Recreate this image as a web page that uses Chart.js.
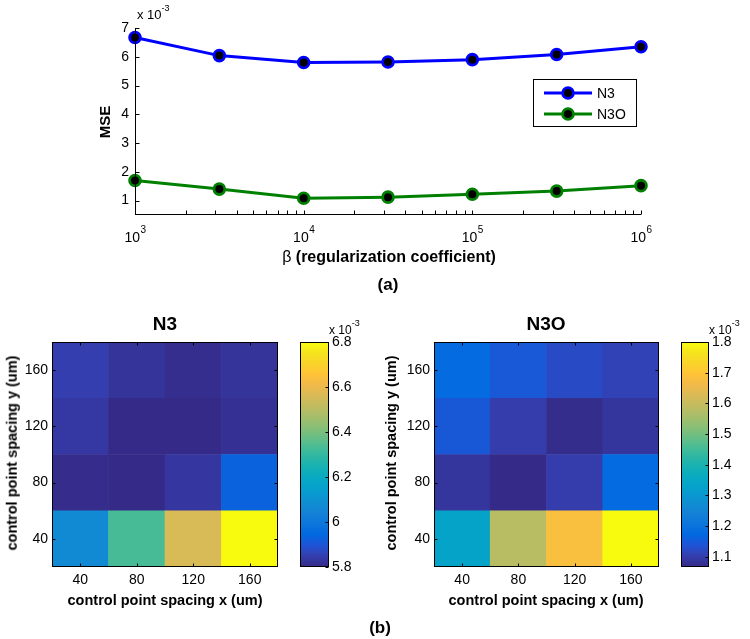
<!DOCTYPE html>
<html>
<head>
<meta charset="utf-8">
<script src="https://cdn.jsdelivr.net/npm/chart.js@4.4.1/dist/chart.umd.min.js"></script>
<style>
  html, body { margin: 0; padding: 0; background: #fff; }
  #fig { position: relative; width: 750px; height: 639px; overflow: hidden;
         font-family: "Liberation Sans", Arial, Helvetica, sans-serif; color: #000; }
  #fig canvas { position: absolute; }
  .t { position: absolute; white-space: nowrap; line-height: 1; }
  .c { transform: translate(-50%, -50%); }
  .rot { transform: translate(-50%, -50%) rotate(-90deg); }
  .b { font-weight: bold; }
  sup { font-size: 9px; position: relative; top: -3px; }
</style>
</head>
<body>
<div id="fig">
  <canvas id="mseChart" width="750" height="300" style="left:0;top:0"></canvas>
  <canvas id="n3Map" width="300" height="300" style="left:0;top:300px"></canvas>
  <canvas id="n3Bar" width="80" height="300" style="left:290px;top:300px"></canvas>
  <canvas id="n3oMap" width="300" height="300" style="left:370px;top:300px"></canvas>
  <canvas id="n3oBar" width="80" height="300" style="left:670px;top:300px"></canvas>

  <div class="t" style="left:137px;top:7px;font-size:13px">x 10<sup>-3</sup></div>
  <div class="t rot b" style="left:104px;top:122px;font-size:15px">MSE</div>
  <div class="t c" style="left:389px;top:257px;font-size:16px"><span>&beta;</span> <span class="b">(regularization coefficient)</span></div>
  <div class="t c b" style="left:388px;top:284px;font-size:17px">(a)</div>

  <div class="t c b" style="left:165px;top:323px;font-size:19px">N3</div>
  <div class="t c b" style="left:546px;top:323px;font-size:19px">N3O</div>
  <div class="t" style="left:329px;top:322px;font-size:12px">x 10<sup>-3</sup></div>
  <div class="t" style="left:709px;top:322px;font-size:12px">x 10<sup>-3</sup></div>
  <div class="t rot b" style="left:12px;top:453px;font-size:14.5px">control point spacing y (um)</div>
  <div class="t rot b" style="left:391px;top:453px;font-size:14.5px">control point spacing y (um)</div>
  <div class="t c b" style="left:165px;top:600px;font-size:14.5px">control point spacing x (um)</div>
  <div class="t c b" style="left:546px;top:600px;font-size:14.5px">control point spacing x (um)</div>
  <div class="t c b" style="left:380px;top:627px;font-size:17px">(b)</div>
</div>

<script>
(function () {
  "use strict";

  var FONT = '"Liberation Sans", Arial, Helvetica, sans-serif';

  // (a) MSE vs regularization coefficient, values in units of 1e-3
  var BETA = [1000, 3162, 10000, 31623, 100000, 316228, 1000000];
  var N3_MSE = [6.67, 6.04, 5.80, 5.82, 5.90, 6.08, 6.35];
  var N3O_MSE = [1.70, 1.40, 1.08, 1.12, 1.22, 1.33, 1.52];
  var BETA_MAJOR = [1000, 10000, 100000, 1000000];
  var BETA_EXP = ["3", "4", "5", "6"];
  var MSE_TICKS = [1, 2, 3, 4, 5, 6, 7];

  // (b) MSE over control point spacing, rows are y = 40, 80, 120, 160 (units 1e-3)
  var SPACING_X = ["40", "80", "120", "160"];
  var SPACING_Y = [40, 80, 120, 160];
  var N3_GRID = [
    [6.07, 6.33, 6.56, 6.80],
    [5.805, 5.80, 5.83, 5.93],
    [5.835, 5.80, 5.80, 5.815],
    [5.85, 5.825, 5.81, 5.825]
  ];
  var N3O_GRID = [
    [1.335, 1.58, 1.68, 1.80],
    [1.088, 1.067, 1.10, 1.18],
    [1.146, 1.10, 1.072, 1.088],
    [1.18, 1.145, 1.123, 1.11]
  ];
  var N3_CLIM = [5.8, 6.8];
  var N3O_CLIM = [1.067, 1.8];
  var N3_CBAR_TICKS = [5.8, 6, 6.2, 6.4, 6.6, 6.8];
  var N3O_CBAR_TICKS = [1.1, 1.2, 1.3, 1.4, 1.5, 1.6, 1.7, 1.8];

  // parula colormap, every 3rd entry of the 64-step table
  var PARULA = [
    [0.2081, 0.1663, 0.5292], [0.2081, 0.2386, 0.6771], [0.1253, 0.3242, 0.8303],
    [0.0060, 0.4086, 0.8828], [0.0498, 0.4586, 0.8641], [0.0779, 0.5040, 0.8384],
    [0.0641, 0.5570, 0.8240], [0.0265, 0.6137, 0.8135], [0.0228, 0.6535, 0.7768],
    [0.0590, 0.6838, 0.7254], [0.1453, 0.7098, 0.6646], [0.2586, 0.7317, 0.5954],
    [0.3953, 0.7459, 0.5244], [0.5300, 0.7491, 0.4661], [0.6473, 0.7456, 0.4188],
    [0.7525, 0.7384, 0.3768], [0.8507, 0.7299, 0.3360], [0.9450, 0.7261, 0.2886],
    [0.9990, 0.7653, 0.2164], [0.9789, 0.8271, 0.1633], [0.9589, 0.8949, 0.1132],
    [0.9763, 0.9831, 0.0538]
  ];

  function rgb(c) {
    return "rgb(" + Math.round(c[0] * 255) + "," + Math.round(c[1] * 255) + "," + Math.round(c[2] * 255) + ")";
  }

  function parula(t) {
    t = Math.max(0, Math.min(1, t));
    var f = t * (PARULA.length - 1), i = Math.min(Math.floor(f), PARULA.length - 2), u = f - i;
    var a = PARULA[i], b = PARULA[i + 1];
    return rgb([a[0] + (b[0] - a[0]) * u, a[1] + (b[1] - a[1]) * u, a[2] + (b[2] - a[2]) * u]);
  }

  function fmt(v) { return String(Math.round(v * 10) / 10); }

  // MATLAB-style frame with inward ticks
  var matFrame = {
    id: "matFrame",
    afterDatasetsDraw: function (chart, args, o) {
      var a = chart.chartArea, c = chart.ctx, len = o.len || 4;
      var L = Math.round(a.left) + 0.5, R = Math.round(a.right) - 0.5;
      var T = Math.round(a.top) + 0.5, B = Math.round(a.bottom) - 0.5;
      c.save();
      c.strokeStyle = "#000";
      c.lineWidth = 1;
      c.beginPath();
      (o.frame || []).forEach(function (s) {
        if (s === "left") { c.moveTo(L, T - 0.5); c.lineTo(L, B + 0.5); }
        if (s === "right") { c.moveTo(R, T - 0.5); c.lineTo(R, B + 0.5); }
        if (s === "top") { c.moveTo(L - 0.5, T); c.lineTo(R + 0.5, T); }
        if (s === "bottom") { c.moveTo(L - 0.5, B); c.lineTo(R + 0.5, B); }
      });
      var xs = chart.scales.x, ys = chart.scales.y;
      (o.xTicks || []).forEach(function (s) {
        xs.ticks.forEach(function (t, i) {
          var p = Math.round(xs.getPixelForTick(i)) + 0.5;
          if (s === "bottom") { c.moveTo(p, B); c.lineTo(p, B - len); }
          else { c.moveTo(p, T); c.lineTo(p, T + len); }
        });
      });
      (o.yTicks || []).forEach(function (s) {
        ys.ticks.forEach(function (t, i) {
          var p = Math.round(ys.getPixelForTick(i)) + 0.5;
          if (s === "left") { c.moveTo(L, p); c.lineTo(L + len, p); }
          else { c.moveTo(R, p); c.lineTo(R - len, p); }
        });
      });
      c.stroke();
      c.restore();
    }
  };

  // "10" with a raised exponent under each decade of the log axis
  var powerLabels = {
    id: "powerLabels",
    afterDraw: function (chart, args, o) {
      var xs = chart.scales.x, c = chart.ctx, base = chart.chartArea.bottom + o.offset;
      c.save();
      c.fillStyle = "#000";
      c.textBaseline = "alphabetic";
      BETA_MAJOR.forEach(function (v, k) {
        c.font = "14px " + FONT;
        var w1 = c.measureText("10").width;
        c.font = "10px " + FONT;
        var w2 = c.measureText(BETA_EXP[k]).width;
        var x0 = xs.getPixelForValue(v) - (w1 + w2) / 2;
        c.font = "14px " + FONT;
        c.fillText("10", x0, base);
        c.font = "10px " + FONT;
        c.fillText(BETA_EXP[k], x0 + w1 + 0.5, base - 9);
      });
      c.restore();
    }
  };

  // legend box drawn inside the MSE plot
  var mseLegend = {
    id: "mseLegend",
    afterDraw: function (chart, args, o) {
      var c = chart.ctx;
      c.save();
      c.fillStyle = "#fff";
      c.fillRect(o.x, o.y, o.w, o.h);
      c.strokeStyle = "#000";
      c.lineWidth = 1;
      c.strokeRect(o.x + 0.5, o.y + 0.5, o.w - 1, o.h - 1);
      chart.data.datasets.forEach(function (ds, i) {
        var y = o.y + 14 + i * 21;
        c.strokeStyle = ds.borderColor;
        c.lineWidth = ds.borderWidth;
        c.beginPath();
        c.moveTo(o.x + 11, y);
        c.lineTo(o.x + 59, y);
        c.stroke();
        c.beginPath();
        c.arc(o.x + 35, y, ds.pointRadius, 0, Math.PI * 2);
        c.fillStyle = ds.pointBackgroundColor;
        c.fill();
        c.lineWidth = ds.pointBorderWidth;
        c.strokeStyle = ds.pointBorderColor;
        c.stroke();
        c.fillStyle = "#000";
        c.font = "14px " + FONT;
        c.textBaseline = "middle";
        c.fillText(ds.label, o.x + 64, y + 1);
      });
      c.restore();
    }
  };

  function fixBox(width, height) {
    return function (s) {
      if (width != null) s.width = width;
      if (height != null) s.height = height;
    };
  }

  function lineSet(label, values, color) {
    return {
      label: label,
      data: BETA.map(function (b, i) { return { x: b, y: values[i] }; }),
      borderColor: color,
      backgroundColor: color,
      borderWidth: 3,
      pointRadius: 5.4,
      pointBorderWidth: 2.8,
      pointBackgroundColor: "#000",
      pointBorderColor: color,
      tension: 0,
      clip: false
    };
  }

  new Chart(document.getElementById("mseChart"), {
    type: "line",
    data: { datasets: [lineSet("N3", N3_MSE, "#0000ff"), lineSet("N3O", N3O_MSE, "#008000")] },
    options: {
      responsive: false,
      animation: false,
      events: [],
      layout: { padding: { left: 0, top: 28, right: 109, bottom: 0 } },
      scales: {
        x: {
          type: "logarithmic",
          min: 1000,
          max: 1000000,
          grid: { display: false, drawTicks: false },
          border: { display: false },
          afterBuildTicks: function (s) {
            var ticks = [];
            BETA_MAJOR.forEach(function (m, k) {
              ticks.push({ value: m, major: true });
              if (k < BETA_MAJOR.length - 1) {
                for (var j = 2; j <= 9; j++) ticks.push({ value: m * j });
              }
            });
            s.ticks = ticks;
          },
          afterFit: fixBox(null, 85),
          ticks: { display: false, autoSkip: false }
        },
        y: {
          min: 0.5,
          max: 7,
          grid: { display: false, drawTicks: false },
          border: { display: false },
          afterBuildTicks: function (s) { s.ticks = MSE_TICKS.map(function (v) { return { value: v }; }); },
          afterFit: fixBox(135, null),
          ticks: { padding: 6, color: "#000", font: { family: FONT, size: 14 } }
        }
      },
      plugins: {
        legend: { display: false },
        tooltip: { enabled: false },
        matFrame: { frame: ["left", "bottom"], xTicks: ["bottom"], yTicks: ["left"], len: 4 },
        powerLabels: { offset: 27 },
        mseLegend: { x: 533, y: 79, w: 104, h: 48 }
      }
    },
    plugins: [matFrame, powerLabels, mseLegend]
  });

  function heatmap(id, grid, clim, padLeft, padRight) {
    var datasets = SPACING_Y.map(function (yv, r) {
      return {
        data: SPACING_X.map(function () { return [yv - 20, yv + 20]; }),
        backgroundColor: grid[r].map(function (v) { return parula((v - clim[0]) / (clim[1] - clim[0])); }),
        borderWidth: 0,
        barPercentage: 1,
        categoryPercentage: 1
      };
    });
    new Chart(document.getElementById(id), {
      type: "bar",
      data: { labels: SPACING_X, datasets: datasets },
      options: {
        responsive: false,
        animation: false,
        events: [],
        layout: { padding: { left: 0, top: 42, right: padRight, bottom: 0 } },
        scales: {
          x: {
            stacked: true,
            grid: { display: false, drawTicks: false },
            border: { display: false },
            afterFit: fixBox(null, 33),
            ticks: { padding: 5, color: "#000", font: { family: FONT, size: 14 } }
          },
          y: {
            min: 20,
            max: 180,
            grid: { display: false, drawTicks: false },
            border: { display: false },
            afterBuildTicks: function (s) { s.ticks = SPACING_Y.map(function (v) { return { value: v }; }); },
            afterFit: fixBox(padLeft, null),
            ticks: { padding: 4, color: "#000", font: { family: FONT, size: 14 } }
          }
        },
        plugins: {
          legend: { display: false },
          tooltip: { enabled: false },
          matFrame: { frame: ["left", "right", "top", "bottom"], xTicks: ["bottom", "top"], yTicks: ["left", "right"], len: 3 }
        }
      },
      plugins: [matFrame]
    });
  }

  function colorbar(id, clim, ticks, padLeft) {
    new Chart(document.getElementById(id), {
      type: "bar",
      data: {
        labels: [""],
        datasets: [{
          data: [[clim[0], clim[1]]],
          borderWidth: 0,
          barPercentage: 1,
          categoryPercentage: 1,
          backgroundColor: function (ctx) {
            var a = ctx.chart.chartArea;
            if (!a) return parula(0);
            var g = ctx.chart.ctx.createLinearGradient(0, a.bottom, 0, a.top);
            PARULA.forEach(function (c, i) { g.addColorStop(i / (PARULA.length - 1), rgb(c)); });
            return g;
          }
        }]
      },
      options: {
        responsive: false,
        animation: false,
        events: [],
        layout: { padding: { left: padLeft, top: 42, right: 0, bottom: 33 } },
        scales: {
          x: { display: false },
          y: {
            position: "right",
            min: clim[0],
            max: clim[1],
            grid: { display: false, drawTicks: false },
            border: { display: false },
            afterBuildTicks: function (s) { s.ticks = ticks.map(function (v) { return { value: v }; }); },
            afterFit: fixBox(41, null),
            ticks: { padding: 3, color: "#000", font: { family: FONT, size: 14 }, callback: fmt }
          }
        },
        plugins: {
          legend: { display: false },
          tooltip: { enabled: false },
          matFrame: { frame: ["left", "right", "top", "bottom"], yTicks: ["right"], len: 3 }
        }
      },
      plugins: [matFrame]
    });
  }

  heatmap("n3Map", N3_GRID, N3_CLIM, 52, 22);
  colorbar("n3Bar", N3_CLIM, N3_CBAR_TICKS, 10);
  heatmap("n3oMap", N3O_GRID, N3O_CLIM, 64, 11);
  colorbar("n3oBar", N3O_CLIM, N3O_CBAR_TICKS, 11);
})();
</script>
</body>
</html>
